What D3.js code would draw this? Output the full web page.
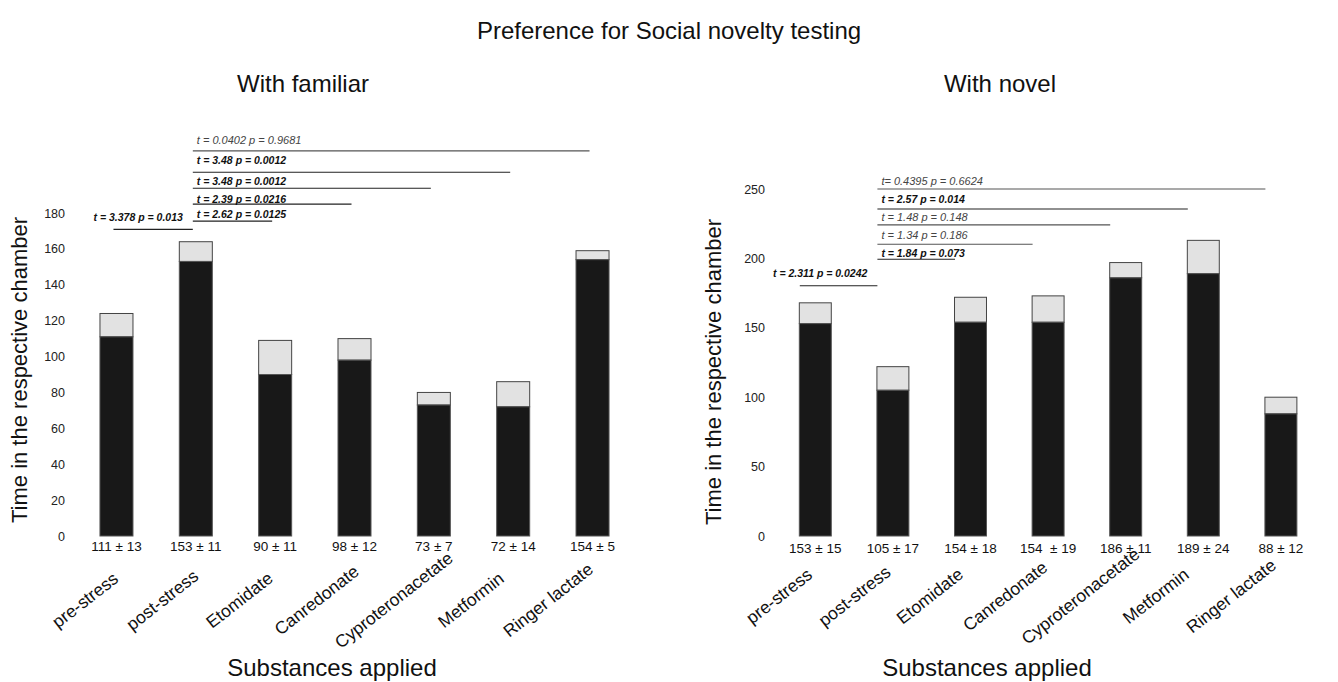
<!DOCTYPE html>
<html>
<head>
<meta charset="utf-8">
<script src="https://cdn.jsdelivr.net/npm/d3@7"></script>
<style>
  body { margin: 0; background: #fff; }
  svg { font-family: "Liberation Sans", Arial, sans-serif; }
</style>
</head>
<body>
<svg id="chart" width="1338" height="682"></svg>
<script>
var categories = ["pre-stress", "post-stress", "Etomidate", "Canredonate", "Cyproteronacetate", "Metformin", "Ringer lactate"];

// With familiar: mean (black) and top of the grey SEM cap as drawn
var familiarMean = [111, 153, 90, 98, 73, 72, 154];
var familiarTop = [124, 164, 109, 110, 80, 86, 159];
var familiarLabels = ["111 ± 13", "153 ± 11", "90 ± 11", "98 ± 12", "73 ± 7", "72 ± 14", "154 ± 5"];
var familiarTicks = [0, 20, 40, 60, 80, 100, 120, 140, 160, 180];

// With novel
var novelMean = [153, 105, 154, 154, 186, 189, 88];
var novelTop = [168, 122, 172, 173, 197, 213, 100];
var novelLabels = ["153 ± 15", "105 ± 17", "154 ± 18", "154  ± 19", "186 ± 11", "189 ± 24", "88 ± 12"];
var novelTicks = [0, 50, 100, 150, 200, 250];

// t-test brackets: level = height of line, textLevel = baseline of label (data units)
var familiarTests = [
  {from: "pre-stress", to: "post-stress", label: "t = 3.378 p = 0.013", bold: true, level: 170.9, textLevel: 175.7, end: true},
  {from: "post-stress", to: "Etomidate", label: "t = 2.62 p = 0.0125", bold: true, level: 175.5, textLevel: 177},
  {from: "post-stress", to: "Canredonate", label: "t = 2.39 p = 0.0216", bold: true, level: 184.9, textLevel: 185.7},
  {from: "post-stress", to: "Cyproteronacetate", label: "t = 3.48 p = 0.0012", bold: true, level: 193.8, textLevel: 195.6},
  {from: "post-stress", to: "Metformin", label: "t = 3.48 p = 0.0012", bold: true, level: 202.7, textLevel: 207.1},
  {from: "post-stress", to: "Ringer lactate", label: "t = 0.0402 p = 0.9681", bold: false, level: 214.6, textLevel: 218.5}
];
var novelTests = [
  {from: "pre-stress", to: "post-stress", label: "t = 2.311 p = 0.0242", bold: true, level: 180.3, textLevel: 186.8, end: true},
  {from: "post-stress", to: "Etomidate", label: "t = 1.84 p = 0.073", bold: true, level: 199.4, textLevel: 201.2},
  {from: "post-stress", to: "Canredonate", label: "t = 1.34 p = 0.186", bold: false, level: 210.2, textLevel: 214},
  {from: "post-stress", to: "Cyproteronacetate", label: "t = 1.48 p = 0.148", bold: false, level: 224.1, textLevel: 227},
  {from: "post-stress", to: "Metformin", label: "t = 2.57 p = 0.014", bold: true, level: 235.6, textLevel: 240.1},
  {from: "post-stress", to: "Ringer lactate", label: "t= 0.4395 p = 0.6624", bold: false, level: 250, textLevel: 252.9}
];

var svg = d3.select("#chart");

svg.append("text")
  .attr("x", 669).attr("y", 39)
  .attr("text-anchor", "middle")
  .style("font-size", "24px").style("fill", "#111")
  .text("Preference for Social novelty testing");

function drawPanel(opts){
  var g = svg.append("g");

  var x = d3.scaleBand()
    .domain(categories)
    .range(opts.xRange)
    .paddingInner(opts.pad)
    .paddingOuter(opts.pad / 2);

  var y = d3.scaleLinear()
    .domain([0, opts.ticks[opts.ticks.length - 1]])
    .range([536, opts.yTop]);

  var labelX = d3.scalePoint().domain(categories).range(opts.labelRange);

  var rows = categories.map(function(c, i){
    return {cat: c, mean: opts.mean[i], top: opts.top[i], label: opts.labels[i]};
  });

  // title
  g.append("text")
    .attr("x", opts.titleX).attr("y", 92)
    .attr("text-anchor", "middle")
    .style("font-size", "24px").style("fill", "#111")
    .text(opts.title);

  // y axis: labels only
  var axis = g.append("g")
    .attr("transform", "translate(" + opts.axisX + ",0)")
    .call(d3.axisLeft(y).tickValues(opts.ticks).tickSize(0).tickPadding(3));
  axis.select(".domain").remove();
  axis.selectAll("text")
    .style("font-family", "Liberation Sans, Arial, sans-serif")
    .style("font-size", "12.5px").style("fill", "#222");

  g.append("text")
    .attr("transform", "translate(" + opts.yTitleX + "," + opts.yTitleY + ") rotate(-90)")
    .attr("text-anchor", "middle")
    .style("font-size", "22px").style("fill", "#111")
    .text("Time in the respective chamber");

  // grey SEM caps
  g.selectAll(".cap")
    .data(rows)
  .enter().append("rect")
    .attr("class", "cap")
    .attr("x", function(d){ return x(d.cat); })
    .attr("width", x.bandwidth())
    .attr("y", function(d){ return y(d.top); })
    .attr("height", function(d){ return y(d.mean) - y(d.top); })
    .style("fill", "#e2e2e2")
    .style("stroke", "#444")
    .style("stroke-width", 1);

  // black mean bars
  g.selectAll(".bar")
    .data(rows)
  .enter().append("rect")
    .attr("class", "bar")
    .attr("x", function(d){ return x(d.cat); })
    .attr("width", x.bandwidth())
    .attr("y", function(d){ return y(d.mean); })
    .attr("height", function(d){ return y(0) - y(d.mean); })
    .style("fill", "#181818")
    .style("stroke", "#555")
    .style("stroke-width", 1);

  // mean ± sem labels
  g.selectAll(".valueLabel")
    .data(rows)
  .enter().append("text")
    .attr("class", "valueLabel")
    .attr("x", function(d){ return x(d.cat) + x.bandwidth() / 2; })
    .attr("y", opts.valueY)
    .attr("text-anchor", "middle")
    .style("white-space", "pre")
    .style("font-size", "13.5px").style("fill", "#111")
    .text(function(d){ return d.label; });

  // rotated category labels
  g.selectAll(".catLabel")
    .data(categories)
  .enter().append("text")
    .attr("class", "catLabel")
    .attr("transform", function(d){ return "translate(" + labelX(d) + "," + opts.catY + ") rotate(-38)"; })
    .attr("text-anchor", "middle")
    .attr("dy", "0.35em")
    .style("font-size", "17.5px").style("fill", "#111")
    .text(function(d){ return d; });

  g.append("text")
    .attr("x", opts.xTitleX).attr("y", 676)
    .attr("text-anchor", "middle")
    .style("font-size", "24px").style("fill", "#111")
    .text("Substances applied");

  // t-test brackets
  var center = function(c){ return x(c) + x.bandwidth() / 2 + opts.lineShift; };

  g.selectAll(".testLine")
    .data(opts.tests)
  .enter().append("line")
    .attr("class", "testLine")
    .attr("x1", function(d){ return center(d.from); })
    .attr("x2", function(d){ return center(d.to); })
    .attr("y1", function(d){ return y(d.level); })
    .attr("y2", function(d){ return y(d.level); })
    .style("stroke", function(d){ return d.bold ? "#222" : "#555"; })
    .style("stroke-width", 1.2);

  g.selectAll(".testLabel")
    .data(opts.tests)
  .enter().append("text")
    .attr("class", "testLabel")
    .attr("x", function(d){ return d.end ? center(d.to) - 10 : center(d.from) + 4; })
    .attr("y", function(d){ return y(d.textLevel); })
    .attr("text-anchor", function(d){ return d.end ? "end" : "start"; })
    .style("font-style", "italic")
    .style("font-weight", function(d){ return d.bold ? "bold" : "normal"; })
    .style("font-size", function(d){ return d.bold ? "10.5px" : "11px"; })
    .style("fill", function(d){ return d.bold ? "#111" : "#444"; })
    .text(function(d){ return d.label; });
}

drawPanel({
  title: "With familiar", titleX: 303,
  xRange: [76.8, 632.2], pad: 0.584, yTop: 213,
  ticks: familiarTicks, mean: familiarMean, top: familiarTop, labels: familiarLabels,
  axisX: 68, yTitleX: 27, yTitleY: 370,
  valueY: 551, catY: 600, labelRange: [85, 548], xTitleX: 332,
  tests: familiarTests, lineShift: -3
});

drawPanel({
  title: "With novel", titleX: 1000,
  xRange: [776.5, 1319.7], pad: 0.588, yTop: 189,
  ticks: novelTicks, mean: novelMean, top: novelTop, labels: novelLabels,
  axisX: 768, yTitleX: 721, yTitleY: 372,
  valueY: 552.5, catY: 596, labelRange: [779, 1231], xTitleX: 987,
  tests: novelTests, lineShift: -15.5
});
</script>
</body>
</html>
